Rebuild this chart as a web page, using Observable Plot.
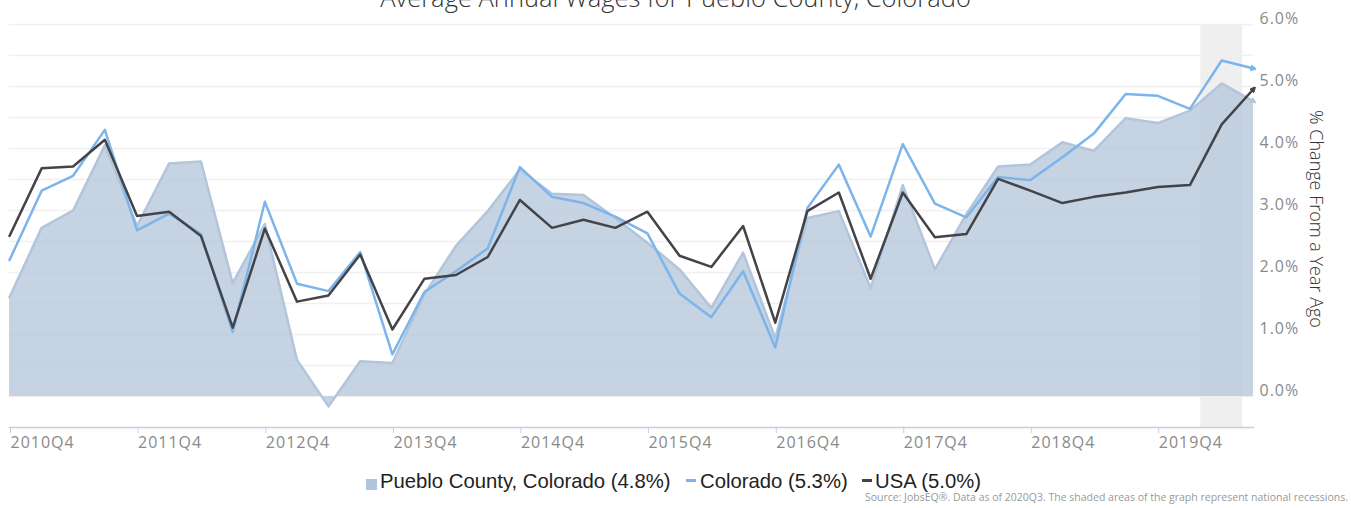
<!DOCTYPE html>
<html>
<head>
<meta charset="utf-8">
<script src="https://cdn.jsdelivr.net/npm/d3@7"></script>
<script src="https://cdn.jsdelivr.net/npm/@observablehq/plot@0.6"></script>
<style>
  html, body { margin: 0; padding: 0; background: #fff; }
  body { width: 1351px; height: 508px; overflow: hidden; position: relative; font-family: "Open Sans", sans-serif; }
  #title { position: absolute; left: 0; top: -15px; width: 1351px; text-align: center; font-size: 25.5px; line-height: 25.5px; font-weight: 300; color: #333; white-space: nowrap; }
  #chart { position: absolute; left: 0; top: 0; }
  #ylabel { position: absolute; left: 1317px; top: 219px; transform: translate(-50%, -50%) rotate(90deg); font-size: 18px; font-weight: 300; color: #333; white-space: nowrap; }
  .leg { position: absolute; top: 471px; font-family: "Liberation Sans", Arial, sans-serif; font-size: 20.3px; line-height: 20px; color: #222; white-space: nowrap; }
  .sw { position: absolute; }
  #caption { position: absolute; right: 3px; top: 491px; font-size: 10.5px; line-height: 12px; color: #999; white-space: nowrap; }
</style>
</head>
<body>
<div id="title">Average Annual Wages for Pueblo County, Colorado</div>
<div id="chart"></div>
<div id="ylabel">% Change From a Year Ago</div>
<div class="sw" style="left:366px;top:479px;width:11px;height:11px;background:#b0c4de;"></div>
<div class="leg" style="left:380px;">Pueblo County, Colorado (4.8%)</div>
<div class="sw" style="left:686px;top:479px;width:10px;height:3px;background:#7cb5ec;"></div>
<div class="leg" style="left:700px;">Colorado (5.3%)</div>
<div class="sw" style="left:862px;top:479px;width:10px;height:3px;background:#434348;"></div>
<div class="leg" style="left:875px;">USA (5.0%)</div>
<div id="caption">Source: JobsEQ®. Data as of 2020Q3. The shaded areas of the graph represent national recessions.</div>
<script>
const quarters = [
  "2010Q4","2011Q1","2011Q2","2011Q3","2011Q4","2012Q1","2012Q2","2012Q3","2012Q4","2013Q1",
  "2013Q2","2013Q3","2013Q4","2014Q1","2014Q2","2014Q3","2014Q4","2015Q1","2015Q2","2015Q3",
  "2015Q4","2016Q1","2016Q2","2016Q3","2016Q4","2017Q1","2017Q2","2017Q3","2017Q4","2018Q1",
  "2018Q2","2018Q3","2018Q4","2019Q1","2019Q2","2019Q3","2019Q4","2020Q1","2020Q2","2020Q3"
];
const pueblo = [1.60, 2.72, 3.00, 4.05, 2.75, 3.76, 3.79, 1.83, 2.78, 0.59,
                -0.16, 0.57, 0.54, 1.65, 2.43, 2.99, 3.66, 3.27, 3.25, 2.88,
                2.48, 2.05, 1.43, 2.32, 0.94, 2.88, 2.99, 1.75, 3.41, 2.05,
                2.94, 3.71, 3.74, 4.10, 3.96, 4.49, 4.41, 4.61, 5.05, 4.76];
const colorado = [2.20, 3.32, 3.56, 4.30, 2.68, 2.95, 2.62, 1.04, 3.14, 1.82,
                  1.70, 2.33, 0.68, 1.69, 2.02, 2.39, 3.70, 3.22, 3.12, 2.90,
                  2.63, 1.66, 1.28, 2.02, 0.79, 3.04, 3.74, 2.58, 4.07, 3.11,
                  2.89, 3.54, 3.49, 3.86, 4.24, 4.88, 4.85, 4.64, 5.42, 5.29];
const usa = [2.59, 3.68, 3.71, 4.14, 2.91, 2.98, 2.59, 1.11, 2.71, 1.53,
             1.63, 2.29, 1.08, 1.90, 1.96, 2.25, 3.17, 2.72, 2.85, 2.72,
             2.98, 2.27, 2.09, 2.75, 1.19, 2.99, 3.29, 1.90, 3.29, 2.57,
             2.62, 3.51, 3.32, 3.12, 3.22, 3.29, 3.38, 3.41, 4.39, 4.96];
const tickLabels = ["2010Q4","2011Q4","2012Q4","2013Q4","2014Q4","2015Q4","2016Q4","2017Q4","2018Q4","2019Q4"];
const yTicks = [0, 1, 2, 3, 4, 5, 6];
const gridValues = [0, 0.5, 1, 1.5, 2, 2.5, 3, 3.5, 4, 4.5, 5, 5.5, 6];
const yDomain = [-0.5, 6];
const recessions = [{start: "2020-02-01", end: "2020-05-31"}];

const qd = (q) => new Date(Date.UTC(+q.slice(0, 4), (+q.slice(5) - 1) * 3, 1));
const data = quarters.map((q, i) => ({date: qd(q), pueblo: pueblo[i], colorado: colorado[i], usa: usa[i]}));
const rec = recessions.map(r => ({start: new Date(r.start), end: new Date(r.end)}));

function tri(color, context) {
  const ns = "http://www.w3.org/2000/svg";
  const m = document.createElementNS(ns, "marker");
  m.setAttribute("viewBox", "-5 -5 10 10");
  m.setAttribute("markerWidth", "6");
  m.setAttribute("markerHeight", "6");
  m.setAttribute("markerUnits", "userSpaceOnUse");
  m.setAttribute("orient", "auto");
  const p = document.createElementNS(ns, "path");
  p.setAttribute("d", "M-4,-4L4,0L-4,4Z");
  p.setAttribute("fill", color);
  m.appendChild(p);
  return m;
}

const chart = Plot.plot({
  width: 1351,
  height: 450,
  marginLeft: 9,
  marginRight: 98,
  marginTop: 24,
  marginBottom: 23,
  style: {fontFamily: "'Open Sans', sans-serif", background: "transparent", overflow: "visible"},
  x: {type: "utc", domain: [qd(quarters[0]), qd(quarters[quarters.length - 1])]},
  y: {domain: yDomain},
  marks: [
    Plot.rect(rec, {x1: "start", x2: "end", fill: "#efefef"}),
    Plot.ruleY(gridValues, {stroke: "#f0f0f0", strokeWidth: 1.5}),
    Plot.areaY(data, {x: "date", y: "pueblo", fill: "#b6c8dc", fillOpacity: 0.8}),
    Plot.lineY(data, {x: "date", y: "pueblo", stroke: "#b3c5db", strokeWidth: 2.5, markerEnd: tri}),
    Plot.lineY(data, {x: "date", y: "colorado", stroke: "#7cb5ec", strokeWidth: 2.5, markerEnd: tri}),
    Plot.lineY(data, {x: "date", y: "usa", stroke: "#434348", strokeWidth: 2.5, markerEnd: tri}),
    Plot.frame({anchor: "bottom", stroke: "#c0d0e0", strokeWidth: 1.5}),
    Plot.axisX({
      ticks: tickLabels.map(qd),
      tickFormat: (d, i) => tickLabels[i],
      tickSize: 6,
      tickPadding: 3,
      dx: 1,
      stroke: "#c0d0e0",
      fill: "#8a8a8a",
      textAnchor: "start",
      fontSize: 16,
      label: null
    }),
    Plot.axisY({
      anchor: "right",
      ticks: yTicks,
      tickFormat: d => d.toFixed(1) + "%",
      tickSize: 0,
      tickPadding: 6,
      dy: -6,
      fill: "#8a8a8a",
      fontSize: 16,
      label: null
    })
  ]
});
chart.querySelectorAll("text").forEach(t => t.style.letterSpacing = "1px");
document.getElementById("chart").appendChild(chart);
</script>
</body>
</html>
